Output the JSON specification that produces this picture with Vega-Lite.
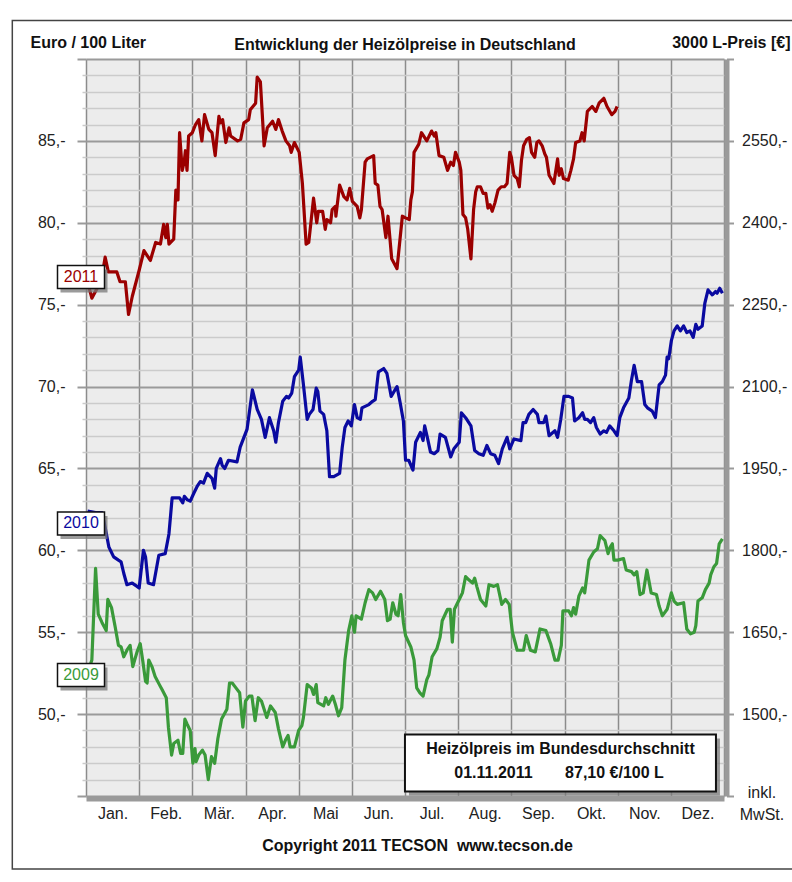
{
"$schema": "https://vega.github.io/schema/vega-lite/v6.json",
"width": 638, "height": 737,
"autosize": "none",
"padding": {"left": 86, "top": 59, "right": 68, "bottom": 86},
"background": "white",
"config": {"font": "Liberation Sans", "view": {"fill": "#ececec", "stroke": null}},
"title": {"text": "Entwicklung der Heizölpreise in Deutschland", "anchor": "middle", "frame": "group", "fontSize": 16, "fontWeight": "bold", "color": "#111", "baseline": "alphabetic", "offset": -45.75},
"datasets": {
"prices": [
{"year":"2011","t":0.02,"v":76.5},{"year":"2011","t":0.11,"v":75.4},{"year":"2011","t":0.21,"v":76.0},{"year":"2011","t":0.30,"v":76.7},{"year":"2011","t":0.36,"v":77.9},{"year":"2011","t":0.42,"v":77.0},{"year":"2011","t":0.58,"v":77.0},{"year":"2011","t":0.64,"v":76.4},{"year":"2011","t":0.74,"v":76.4},{"year":"2011","t":0.80,"v":74.4},{"year":"2011","t":0.87,"v":75.5},{"year":"2011","t":1.0,"v":77.1},{"year":"2011","t":1.09,"v":78.3},{"year":"2011","t":1.21,"v":77.7},{"year":"2011","t":1.31,"v":78.8},{"year":"2011","t":1.40,"v":78.7},{"year":"2011","t":1.46,"v":79.9},{"year":"2011","t":1.50,"v":79.1},{"year":"2011","t":1.53,"v":79.9},{"year":"2011","t":1.56,"v":78.7},{"year":"2011","t":1.65,"v":79.0},{"year":"2011","t":1.69,"v":82.0},{"year":"2011","t":1.73,"v":81.4},{"year":"2011","t":1.76,"v":85.5},{"year":"2011","t":1.81,"v":83.2},{"year":"2011","t":1.85,"v":83.8},{"year":"2011","t":1.87,"v":84.4},{"year":"2011","t":1.90,"v":83.2},{"year":"2011","t":1.93,"v":85.3},{"year":"2011","t":2.0,"v":85.5},{"year":"2011","t":2.06,"v":86.0},{"year":"2011","t":2.12,"v":86.3},{"year":"2011","t":2.18,"v":85.0},{"year":"2011","t":2.23,"v":86.6},{"year":"2011","t":2.31,"v":85.7},{"year":"2011","t":2.37,"v":85.5},{"year":"2011","t":2.43,"v":84.1},{"year":"2011","t":2.50,"v":86.5},{"year":"2011","t":2.53,"v":86.1},{"year":"2011","t":2.57,"v":86.3},{"year":"2011","t":2.63,"v":84.9},{"year":"2011","t":2.69,"v":85.8},{"year":"2011","t":2.72,"v":85.3},{"year":"2011","t":2.85,"v":85.0},{"year":"2011","t":2.91,"v":85.1},{"year":"2011","t":2.97,"v":86.1},{"year":"2011","t":3.06,"v":86.3},{"year":"2011","t":3.09,"v":86.9},{"year":"2011","t":3.19,"v":87.3},{"year":"2011","t":3.22,"v":88.9},{"year":"2011","t":3.28,"v":88.6},{"year":"2011","t":3.35,"v":84.7},{"year":"2011","t":3.41,"v":85.8},{"year":"2011","t":3.51,"v":86.2},{"year":"2011","t":3.57,"v":85.7},{"year":"2011","t":3.62,"v":86.3},{"year":"2011","t":3.69,"v":85.6},{"year":"2011","t":3.76,"v":85.0},{"year":"2011","t":3.83,"v":84.7},{"year":"2011","t":3.86,"v":84.3},{"year":"2011","t":3.92,"v":84.9},{"year":"2011","t":4.01,"v":84.3},{"year":"2011","t":4.07,"v":82.4},{"year":"2011","t":4.14,"v":78.7},{"year":"2011","t":4.19,"v":78.8},{"year":"2011","t":4.28,"v":81.5},{"year":"2011","t":4.34,"v":80.0},{"year":"2011","t":4.37,"v":80.7},{"year":"2011","t":4.45,"v":80.7},{"year":"2011","t":4.50,"v":79.6},{"year":"2011","t":4.53,"v":80.2},{"year":"2011","t":4.60,"v":80.0},{"year":"2011","t":4.63,"v":80.8},{"year":"2011","t":4.69,"v":81.0},{"year":"2011","t":4.70,"v":80.4},{"year":"2011","t":4.77,"v":82.3},{"year":"2011","t":4.85,"v":81.6},{"year":"2011","t":4.91,"v":81.4},{"year":"2011","t":4.96,"v":82.1},{"year":"2011","t":5.01,"v":81.3},{"year":"2011","t":5.10,"v":81.0},{"year":"2011","t":5.15,"v":80.3},{"year":"2011","t":5.18,"v":80.8},{"year":"2011","t":5.25,"v":83.7},{"year":"2011","t":5.29,"v":83.9},{"year":"2011","t":5.41,"v":84.1},{"year":"2011","t":5.44,"v":82.4},{"year":"2011","t":5.49,"v":82.3},{"year":"2011","t":5.53,"v":81.0},{"year":"2011","t":5.57,"v":80.8},{"year":"2011","t":5.64,"v":79.1},{"year":"2011","t":5.68,"v":80.4},{"year":"2011","t":5.75,"v":77.8},{"year":"2011","t":5.85,"v":77.2},{"year":"2011","t":5.95,"v":80.4},{"year":"2011","t":6.01,"v":80.3},{"year":"2011","t":6.08,"v":80.2},{"year":"2011","t":6.11,"v":81.4},{"year":"2011","t":6.14,"v":81.9},{"year":"2011","t":6.17,"v":84.3},{"year":"2011","t":6.26,"v":84.8},{"year":"2011","t":6.31,"v":85.5},{"year":"2011","t":6.41,"v":85.0},{"year":"2011","t":6.50,"v":85.6},{"year":"2011","t":6.55,"v":85.3},{"year":"2011","t":6.58,"v":85.5},{"year":"2011","t":6.64,"v":84.1},{"year":"2011","t":6.73,"v":84.0},{"year":"2011","t":6.80,"v":83.2},{"year":"2011","t":6.86,"v":83.7},{"year":"2011","t":6.91,"v":83.5},{"year":"2011","t":6.95,"v":84.3},{"year":"2011","t":7.02,"v":83.7},{"year":"2011","t":7.05,"v":83.2},{"year":"2011","t":7.09,"v":80.5},{"year":"2011","t":7.14,"v":80.3},{"year":"2011","t":7.18,"v":79.6},{"year":"2011","t":7.24,"v":77.8},{"year":"2011","t":7.29,"v":80.8},{"year":"2011","t":7.33,"v":81.9},{"year":"2011","t":7.36,"v":82.2},{"year":"2011","t":7.42,"v":82.2},{"year":"2011","t":7.47,"v":81.8},{"year":"2011","t":7.52,"v":81.8},{"year":"2011","t":7.56,"v":80.9},{"year":"2011","t":7.60,"v":81.1},{"year":"2011","t":7.64,"v":80.7},{"year":"2011","t":7.69,"v":81.2},{"year":"2011","t":7.75,"v":82.0},{"year":"2011","t":7.81,"v":82.2},{"year":"2011","t":7.87,"v":82.2},{"year":"2011","t":7.92,"v":82.4},{"year":"2011","t":7.97,"v":84.3},{"year":"2011","t":8.00,"v":84.0},{"year":"2011","t":8.05,"v":82.9},{"year":"2011","t":8.11,"v":82.7},{"year":"2011","t":8.15,"v":82.2},{"year":"2011","t":8.19,"v":83.8},{"year":"2011","t":8.23,"v":84.7},{"year":"2011","t":8.29,"v":85.1},{"year":"2011","t":8.34,"v":85.2},{"year":"2011","t":8.38,"v":84.3},{"year":"2011","t":8.44,"v":84.0},{"year":"2011","t":8.48,"v":84.9},{"year":"2011","t":8.52,"v":85.0},{"year":"2011","t":8.58,"v":84.7},{"year":"2011","t":8.63,"v":84.2},{"year":"2011","t":8.66,"v":84.0},{"year":"2011","t":8.71,"v":82.9},{"year":"2011","t":8.80,"v":82.4},{"year":"2011","t":8.87,"v":83.9},{"year":"2011","t":8.90,"v":82.9},{"year":"2011","t":8.94,"v":83.3},{"year":"2011","t":8.98,"v":82.7},{"year":"2011","t":9.07,"v":82.6},{"year":"2011","t":9.12,"v":83.2},{"year":"2011","t":9.17,"v":83.9},{"year":"2011","t":9.21,"v":84.9},{"year":"2011","t":9.29,"v":85.0},{"year":"2011","t":9.33,"v":85.5},{"year":"2011","t":9.37,"v":85.0},{"year":"2011","t":9.43,"v":86.8},{"year":"2011","t":9.52,"v":87.1},{"year":"2011","t":9.59,"v":86.8},{"year":"2011","t":9.65,"v":87.3},{"year":"2011","t":9.74,"v":87.6},{"year":"2011","t":9.80,"v":87.1},{"year":"2011","t":9.89,"v":86.6},{"year":"2011","t":9.95,"v":86.8},{"year":"2011","t":9.99,"v":87.1},
{"year":"2010","t":0.03,"v":62.4},{"year":"2010","t":0.18,"v":62.3},{"year":"2010","t":0.30,"v":62.3},{"year":"2010","t":0.36,"v":61.4},{"year":"2010","t":0.43,"v":60.2},{"year":"2010","t":0.52,"v":59.6},{"year":"2010","t":0.61,"v":59.4},{"year":"2010","t":0.66,"v":59.3},{"year":"2010","t":0.71,"v":58.6},{"year":"2010","t":0.77,"v":57.9},{"year":"2010","t":0.87,"v":58.0},{"year":"2010","t":0.96,"v":57.8},{"year":"2010","t":1.0,"v":57.7},{"year":"2010","t":1.08,"v":60.0},{"year":"2010","t":1.12,"v":59.6},{"year":"2010","t":1.17,"v":58.0},{"year":"2010","t":1.27,"v":57.9},{"year":"2010","t":1.37,"v":59.7},{"year":"2010","t":1.49,"v":59.8},{"year":"2010","t":1.56,"v":61.0},{"year":"2010","t":1.62,"v":63.2},{"year":"2010","t":1.76,"v":63.2},{"year":"2010","t":1.82,"v":62.9},{"year":"2010","t":1.85,"v":63.3},{"year":"2010","t":1.90,"v":63.1},{"year":"2010","t":1.96,"v":63.0},{"year":"2010","t":2.03,"v":63.5},{"year":"2010","t":2.09,"v":63.9},{"year":"2010","t":2.15,"v":64.2},{"year":"2010","t":2.21,"v":64.1},{"year":"2010","t":2.28,"v":64.7},{"year":"2010","t":2.37,"v":64.4},{"year":"2010","t":2.42,"v":63.8},{"year":"2010","t":2.45,"v":65.0},{"year":"2010","t":2.53,"v":65.6},{"year":"2010","t":2.56,"v":65.2},{"year":"2010","t":2.61,"v":65.0},{"year":"2010","t":2.68,"v":65.5},{"year":"2010","t":2.84,"v":65.4},{"year":"2010","t":2.90,"v":66.3},{"year":"2010","t":3.03,"v":67.4},{"year":"2010","t":3.13,"v":69.8},{"year":"2010","t":3.22,"v":68.6},{"year":"2010","t":3.30,"v":68.0},{"year":"2010","t":3.37,"v":66.9},{"year":"2010","t":3.45,"v":68.1},{"year":"2010","t":3.53,"v":67.3},{"year":"2010","t":3.57,"v":66.6},{"year":"2010","t":3.62,"v":67.8},{"year":"2010","t":3.70,"v":69.1},{"year":"2010","t":3.77,"v":69.4},{"year":"2010","t":3.81,"v":69.3},{"year":"2010","t":3.87,"v":69.6},{"year":"2010","t":3.92,"v":70.6},{"year":"2010","t":4.0,"v":71.0},{"year":"2010","t":4.03,"v":71.8},{"year":"2010","t":4.09,"v":70.1},{"year":"2010","t":4.16,"v":68.0},{"year":"2010","t":4.20,"v":68.3},{"year":"2010","t":4.27,"v":68.6},{"year":"2010","t":4.33,"v":69.9},{"year":"2010","t":4.36,"v":69.7},{"year":"2010","t":4.40,"v":68.5},{"year":"2010","t":4.47,"v":68.3},{"year":"2010","t":4.53,"v":67.3},{"year":"2010","t":4.58,"v":64.5},{"year":"2010","t":4.66,"v":64.5},{"year":"2010","t":4.77,"v":64.7},{"year":"2010","t":4.82,"v":66.3},{"year":"2010","t":4.87,"v":67.5},{"year":"2010","t":4.93,"v":67.9},{"year":"2010","t":4.99,"v":67.6},{"year":"2010","t":5.05,"v":68.9},{"year":"2010","t":5.10,"v":68.1},{"year":"2010","t":5.16,"v":68.0},{"year":"2010","t":5.19,"v":68.7},{"year":"2010","t":5.32,"v":68.9},{"year":"2010","t":5.39,"v":69.1},{"year":"2010","t":5.44,"v":69.2},{"year":"2010","t":5.50,"v":70.9},{"year":"2010","t":5.60,"v":71.1},{"year":"2010","t":5.66,"v":70.8},{"year":"2010","t":5.74,"v":69.4},{"year":"2010","t":5.85,"v":70.0},{"year":"2010","t":5.91,"v":69.0},{"year":"2010","t":5.97,"v":67.9},{"year":"2010","t":6.01,"v":65.5},{"year":"2010","t":6.07,"v":65.5},{"year":"2010","t":6.15,"v":64.9},{"year":"2010","t":6.20,"v":66.6},{"year":"2010","t":6.29,"v":67.2},{"year":"2010","t":6.34,"v":66.7},{"year":"2010","t":6.37,"v":67.6},{"year":"2010","t":6.42,"v":66.9},{"year":"2010","t":6.48,"v":66.0},{"year":"2010","t":6.55,"v":65.9},{"year":"2010","t":6.62,"v":66.1},{"year":"2010","t":6.66,"v":67.1},{"year":"2010","t":6.76,"v":66.9},{"year":"2010","t":6.86,"v":65.7},{"year":"2010","t":6.92,"v":66.2},{"year":"2010","t":7.02,"v":66.6},{"year":"2010","t":7.06,"v":68.4},{"year":"2010","t":7.14,"v":68.1},{"year":"2010","t":7.24,"v":67.6},{"year":"2010","t":7.31,"v":66.1},{"year":"2010","t":7.39,"v":65.9},{"year":"2010","t":7.47,"v":65.8},{"year":"2010","t":7.54,"v":66.4},{"year":"2010","t":7.61,"v":65.9},{"year":"2010","t":7.69,"v":65.8},{"year":"2010","t":7.76,"v":65.3},{"year":"2010","t":7.83,"v":66.2},{"year":"2010","t":7.92,"v":66.9},{"year":"2010","t":7.97,"v":66.2},{"year":"2010","t":8.05,"v":66.8},{"year":"2010","t":8.18,"v":66.7},{"year":"2010","t":8.22,"v":67.8},{"year":"2010","t":8.27,"v":67.8},{"year":"2010","t":8.33,"v":68.3},{"year":"2010","t":8.41,"v":68.6},{"year":"2010","t":8.49,"v":68.3},{"year":"2010","t":8.52,"v":67.8},{"year":"2010","t":8.61,"v":67.8},{"year":"2010","t":8.65,"v":68.2},{"year":"2010","t":8.71,"v":67.0},{"year":"2010","t":8.82,"v":67.3},{"year":"2010","t":8.87,"v":66.9},{"year":"2010","t":8.93,"v":68.0},{"year":"2010","t":8.99,"v":69.4},{"year":"2010","t":9.08,"v":69.4},{"year":"2010","t":9.15,"v":69.3},{"year":"2010","t":9.19,"v":67.9},{"year":"2010","t":9.27,"v":68.1},{"year":"2010","t":9.34,"v":68.4},{"year":"2010","t":9.38,"v":68.0},{"year":"2010","t":9.43,"v":68.0},{"year":"2010","t":9.49,"v":67.8},{"year":"2010","t":9.55,"v":68.1},{"year":"2010","t":9.60,"v":67.5},{"year":"2010","t":9.67,"v":67.1},{"year":"2010","t":9.74,"v":67.3},{"year":"2010","t":9.79,"v":67.2},{"year":"2010","t":9.85,"v":67.6},{"year":"2010","t":9.93,"v":67.3},{"year":"2010","t":9.99,"v":67.0},{"year":"2010","t":10.04,"v":68.1},{"year":"2010","t":10.11,"v":68.7},{"year":"2010","t":10.21,"v":69.3},{"year":"2010","t":10.26,"v":70.4},{"year":"2010","t":10.31,"v":71.3},{"year":"2010","t":10.37,"v":70.3},{"year":"2010","t":10.45,"v":70.3},{"year":"2010","t":10.51,"v":68.9},{"year":"2010","t":10.56,"v":68.7},{"year":"2010","t":10.65,"v":68.5},{"year":"2010","t":10.71,"v":68.1},{"year":"2010","t":10.78,"v":70.1},{"year":"2010","t":10.84,"v":70.3},{"year":"2010","t":10.90,"v":70.7},{"year":"2010","t":10.93,"v":71.8},{"year":"2010","t":10.96,"v":71.7},{"year":"2010","t":11.01,"v":72.8},{"year":"2010","t":11.06,"v":73.4},{"year":"2010","t":11.12,"v":73.7},{"year":"2010","t":11.18,"v":73.4},{"year":"2010","t":11.24,"v":73.7},{"year":"2010","t":11.30,"v":73.3},{"year":"2010","t":11.36,"v":73.4},{"year":"2010","t":11.42,"v":73.0},{"year":"2010","t":11.47,"v":73.8},{"year":"2010","t":11.51,"v":73.5},{"year":"2010","t":11.59,"v":73.7},{"year":"2010","t":11.64,"v":75.1},{"year":"2010","t":11.70,"v":75.9},{"year":"2010","t":11.78,"v":75.6},{"year":"2010","t":11.84,"v":75.8},{"year":"2010","t":11.87,"v":75.7},{"year":"2010","t":11.92,"v":76.0},{"year":"2010","t":11.97,"v":75.7},
{"year":"2009","t":0.04,"v":52.6},{"year":"2009","t":0.11,"v":53.3},{"year":"2009","t":0.18,"v":58.9},{"year":"2009","t":0.23,"v":56.1},{"year":"2009","t":0.30,"v":55.6},{"year":"2009","t":0.38,"v":55.1},{"year":"2009","t":0.41,"v":57.0},{"year":"2009","t":0.48,"v":56.5},{"year":"2009","t":0.55,"v":55.3},{"year":"2009","t":0.61,"v":54.2},{"year":"2009","t":0.66,"v":54.1},{"year":"2009","t":0.71,"v":53.5},{"year":"2009","t":0.77,"v":53.9},{"year":"2009","t":0.83,"v":54.2},{"year":"2009","t":0.88,"v":52.9},{"year":"2009","t":0.96,"v":53.8},{"year":"2009","t":1.02,"v":54.3},{"year":"2009","t":1.07,"v":53.2},{"year":"2009","t":1.12,"v":52.0},{"year":"2009","t":1.15,"v":51.9},{"year":"2009","t":1.18,"v":53.3},{"year":"2009","t":1.24,"v":52.9},{"year":"2009","t":1.30,"v":52.3},{"year":"2009","t":1.38,"v":51.8},{"year":"2009","t":1.43,"v":51.5},{"year":"2009","t":1.51,"v":51.0},{"year":"2009","t":1.55,"v":49.2},{"year":"2009","t":1.61,"v":47.5},{"year":"2009","t":1.65,"v":48.2},{"year":"2009","t":1.73,"v":48.4},{"year":"2009","t":1.78,"v":47.6},{"year":"2009","t":1.82,"v":47.6},{"year":"2009","t":1.86,"v":49.7},{"year":"2009","t":1.90,"v":49.4},{"year":"2009","t":1.96,"v":49.0},{"year":"2009","t":2.01,"v":47.0},{"year":"2009","t":2.05,"v":47.9},{"year":"2009","t":2.07,"v":47.1},{"year":"2009","t":2.12,"v":47.5},{"year":"2009","t":2.19,"v":47.8},{"year":"2009","t":2.24,"v":47.5},{"year":"2009","t":2.30,"v":46.0},{"year":"2009","t":2.36,"v":47.4},{"year":"2009","t":2.42,"v":47.0},{"year":"2009","t":2.48,"v":48.5},{"year":"2009","t":2.55,"v":49.7},{"year":"2009","t":2.65,"v":50.3},{"year":"2009","t":2.70,"v":51.9},{"year":"2009","t":2.75,"v":51.9},{"year":"2009","t":2.82,"v":51.6},{"year":"2009","t":2.89,"v":51.3},{"year":"2009","t":2.95,"v":49.2},{"year":"2009","t":3.0,"v":50.8},{"year":"2009","t":3.07,"v":51.1},{"year":"2009","t":3.12,"v":51.1},{"year":"2009","t":3.18,"v":49.6},{"year":"2009","t":3.24,"v":51.0},{"year":"2009","t":3.30,"v":50.8},{"year":"2009","t":3.40,"v":49.8},{"year":"2009","t":3.47,"v":50.5},{"year":"2009","t":3.56,"v":50.1},{"year":"2009","t":3.62,"v":49.1},{"year":"2009","t":3.70,"v":48.0},{"year":"2009","t":3.75,"v":48.4},{"year":"2009","t":3.80,"v":48.7},{"year":"2009","t":3.84,"v":48.0},{"year":"2009","t":3.92,"v":48.0},{"year":"2009","t":4.0,"v":49.0},{"year":"2009","t":4.06,"v":49.3},{"year":"2009","t":4.09,"v":49.8},{"year":"2009","t":4.16,"v":51.8},{"year":"2009","t":4.24,"v":51.6},{"year":"2009","t":4.28,"v":51.2},{"year":"2009","t":4.33,"v":51.8},{"year":"2009","t":4.36,"v":50.7},{"year":"2009","t":4.47,"v":50.5},{"year":"2009","t":4.51,"v":51.0},{"year":"2009","t":4.56,"v":50.6},{"year":"2009","t":4.64,"v":51.1},{"year":"2009","t":4.69,"v":50.6},{"year":"2009","t":4.75,"v":49.9},{"year":"2009","t":4.81,"v":50.4},{"year":"2009","t":4.87,"v":53.3},{"year":"2009","t":4.94,"v":55.1},{"year":"2009","t":5.0,"v":56.0},{"year":"2009","t":5.05,"v":55.0},{"year":"2009","t":5.08,"v":56.0},{"year":"2009","t":5.18,"v":55.8},{"year":"2009","t":5.25,"v":56.8},{"year":"2009","t":5.32,"v":57.6},{"year":"2009","t":5.39,"v":57.4},{"year":"2009","t":5.45,"v":57.0},{"year":"2009","t":5.54,"v":57.5},{"year":"2009","t":5.62,"v":57.0},{"year":"2009","t":5.67,"v":55.7},{"year":"2009","t":5.72,"v":55.8},{"year":"2009","t":5.77,"v":56.8},{"year":"2009","t":5.83,"v":56.1},{"year":"2009","t":5.87,"v":56.0},{"year":"2009","t":5.92,"v":57.3},{"year":"2009","t":5.97,"v":55.6},{"year":"2009","t":6.01,"v":54.8},{"year":"2009","t":6.11,"v":54.1},{"year":"2009","t":6.17,"v":53.3},{"year":"2009","t":6.22,"v":51.6},{"year":"2009","t":6.28,"v":51.3},{"year":"2009","t":6.34,"v":51.1},{"year":"2009","t":6.41,"v":52.1},{"year":"2009","t":6.45,"v":52.4},{"year":"2009","t":6.51,"v":53.5},{"year":"2009","t":6.60,"v":54.0},{"year":"2009","t":6.66,"v":54.7},{"year":"2009","t":6.70,"v":55.7},{"year":"2009","t":6.80,"v":56.4},{"year":"2009","t":6.85,"v":56.4},{"year":"2009","t":6.89,"v":54.4},{"year":"2009","t":6.93,"v":56.4},{"year":"2009","t":7.02,"v":57.0},{"year":"2009","t":7.08,"v":57.4},{"year":"2009","t":7.14,"v":58.4},{"year":"2009","t":7.20,"v":58.2},{"year":"2009","t":7.27,"v":58.0},{"year":"2009","t":7.31,"v":58.3},{"year":"2009","t":7.35,"v":57.8},{"year":"2009","t":7.42,"v":57.0},{"year":"2009","t":7.52,"v":56.6},{"year":"2009","t":7.58,"v":57.9},{"year":"2009","t":7.67,"v":57.8},{"year":"2009","t":7.74,"v":57.9},{"year":"2009","t":7.82,"v":56.7},{"year":"2009","t":7.89,"v":57.0},{"year":"2009","t":7.96,"v":56.7},{"year":"2009","t":8.02,"v":55.0},{"year":"2009","t":8.11,"v":53.9},{"year":"2009","t":8.23,"v":53.9},{"year":"2009","t":8.28,"v":54.8},{"year":"2009","t":8.36,"v":53.9},{"year":"2009","t":8.45,"v":53.8},{"year":"2009","t":8.54,"v":55.2},{"year":"2009","t":8.65,"v":55.1},{"year":"2009","t":8.74,"v":54.3},{"year":"2009","t":8.82,"v":53.3},{"year":"2009","t":8.88,"v":53.3},{"year":"2009","t":8.94,"v":54.2},{"year":"2009","t":8.97,"v":56.3},{"year":"2009","t":9.08,"v":56.3},{"year":"2009","t":9.13,"v":56.0},{"year":"2009","t":9.17,"v":56.5},{"year":"2009","t":9.21,"v":56.1},{"year":"2009","t":9.27,"v":57.2},{"year":"2009","t":9.34,"v":57.7},{"year":"2009","t":9.38,"v":57.4},{"year":"2009","t":9.46,"v":59.4},{"year":"2009","t":9.55,"v":59.9},{"year":"2009","t":9.62,"v":60.1},{"year":"2009","t":9.67,"v":60.9},{"year":"2009","t":9.76,"v":60.6},{"year":"2009","t":9.82,"v":59.8},{"year":"2009","t":9.86,"v":60.2},{"year":"2009","t":9.90,"v":60.4},{"year":"2009","t":9.93,"v":59.4},{"year":"2009","t":10.0,"v":59.4},{"year":"2009","t":10.11,"v":59.5},{"year":"2009","t":10.16,"v":58.8},{"year":"2009","t":10.26,"v":58.7},{"year":"2009","t":10.31,"v":58.5},{"year":"2009","t":10.36,"v":58.7},{"year":"2009","t":10.42,"v":57.3},{"year":"2009","t":10.48,"v":57.4},{"year":"2009","t":10.55,"v":58.8},{"year":"2009","t":10.63,"v":57.4},{"year":"2009","t":10.73,"v":57.3},{"year":"2009","t":10.78,"v":56.6},{"year":"2009","t":10.84,"v":56.0},{"year":"2009","t":10.93,"v":56.4},{"year":"2009","t":11.01,"v":57.4},{"year":"2009","t":11.06,"v":56.9},{"year":"2009","t":11.12,"v":56.7},{"year":"2009","t":11.24,"v":56.8},{"year":"2009","t":11.30,"v":55.2},{"year":"2009","t":11.37,"v":54.9},{"year":"2009","t":11.44,"v":55.0},{"year":"2009","t":11.47,"v":55.4},{"year":"2009","t":11.51,"v":56.9},{"year":"2009","t":11.59,"v":57.1},{"year":"2009","t":11.65,"v":57.6},{"year":"2009","t":11.72,"v":58.0},{"year":"2009","t":11.75,"v":58.5},{"year":"2009","t":11.81,"v":59.0},{"year":"2009","t":11.86,"v":59.2},{"year":"2009","t":11.91,"v":60.4},{"year":"2009","t":11.97,"v":60.7}
],
"labels": [{"year":"2011","v":76.69},{"year":"2010","v":61.64},{"year":"2009","v":52.39}],
"info": [{"head":"Heizölpreis im Bundesdurchschnitt","date":"01.11.2011","price":"87,10 €/100 L"}]
},
"layer": [
{"data": {"values": [{}]},
 "mark": {"type": "rect", "fillOpacity": 0, "stroke": "#444", "strokeWidth": 1.5, "clip": false},
 "encoding": {
  "x": {"datum": -1.386, "type": "quantitative", "scale": {"domain": [0, 12], "nice": false, "zero": false}, "axis": null},
  "x2": {"datum": 13.6},
  "y": {"datum": 92.35, "type": "quantitative", "scale": {"domain": [45, 90], "nice": false, "zero": false}, "axis": null},
  "y2": {"datum": 40.54}}},
{"data": {"name": "prices"},
 "mark": {"type": "line", "strokeWidth": 3.2, "strokeJoin": "round"},
 "encoding": {
  "x": {"field": "t", "type": "quantitative", "scale": {"domain": [0, 12], "nice": false, "zero": false},
   "axis": {"orient": "bottom", "values": [0,1,2,3,4,5,6,7,8,9,10,11,12], "grid": true, "gridColor": "#8c8c8c", "gridWidth": 1.5, "ticks": false,
    "domain": true, "domainColor": "#9a9a9a", "domainWidth": 5, "offset": 2.5,
    "labelExpr": "['Jan.','Feb.','Mär.','Apr.','Mai','Jun.','Jul.','Aug.','Sep.','Okt.','Nov.','Dez.',''][datum.value]",
    "labelOffset": 26.6, "labelFontSize": 16, "labelColor": "#222", "labelPadding": 7, "labelFlush": false, "labelOverlap": false, "labelBound": false,
    "title": "Copyright 2011 TECSON\u00a0\u00a0www.tecson.de", "titleFontSize": 16, "titleFontWeight": "bold", "titleColor": "#111",
    "titleAlign": "center", "titleBaseline": "alphabetic", "titleX": 331, "titleY": 52}},
  "y": {"field": "v", "type": "quantitative", "scale": {"domain": [45, 90], "nice": false, "zero": false},
   "axis": {"orient": "left", "values": [45,46,47,48,49,50,51,52,53,54,55,56,57,58,59,60,61,62,63,64,65,66,67,68,69,70,71,72,73,74,75,76,77,78,79,80,81,82,83,84,85,86,87,88,89,90],
    "grid": true, "domain": false,
    "gridColor": {"condition": {"test": "datum.value % 5 === 0", "value": "#9a9a9a"}, "value": "#cbcbcb"},
    "gridWidth": {"condition": {"test": "datum.value % 5 === 0", "value": 2}, "value": 1.5},
    "tickColor": {"condition": {"test": "datum.value % 5 === 0", "value": "#9a9a9a"}, "value": "#cbcbcb"},
    "tickWidth": {"condition": {"test": "datum.value % 5 === 0", "value": 2}, "value": 1.5},
    "tickSize": {"condition": {"test": "datum.value % 5 === 0", "value": 9}, "value": 4},
    "labelExpr": "datum.value % 5 === 0 && datum.value >= 50 && datum.value <= 85 ? datum.value + ',-' : ''",
    "labelFontSize": 16, "labelColor": "#222", "labelPadding": 12, "labelOverlap": false, "labelBound": false, "labelFlush": false,
    "title": "Euro / 100 Liter", "titleAngle": 0, "titleAlign": "left", "titleBaseline": "alphabetic", "titleX": -56, "titleY": -11.5,
    "titleFontSize": 16, "titleFontWeight": "bold", "titleColor": "#111"}},
  "color": {"field": "year", "type": "nominal", "scale": {"domain": ["2009","2010","2011"], "range": ["#3a9a3a","#0a0aa0","#9b0000"]}, "legend": null}}},
{"data": {"name": "labels"},
 "mark": {"type": "rect", "width": 47, "height": 23, "fill": "#7a7a7a", "opacity": 0.75, "xOffset": -2, "yOffset": 4},
 "encoding": {
  "x": {"datum": 0, "type": "quantitative", "scale": {"domain": [0, 12], "nice": false, "zero": false}, "axis": null},
  "y": {"field": "v", "type": "quantitative", "scale": {"domain": [45, 90], "nice": false, "zero": false}, "axis": null}}},
{"data": {"name": "labels"},
 "mark": {"type": "rect", "width": 47, "height": 23, "fill": "white", "stroke": "#111", "strokeWidth": 1.5, "xOffset": -5},
 "encoding": {
  "x": {"datum": 0, "type": "quantitative", "scale": {"domain": [0, 12], "nice": false, "zero": false}, "axis": null},
  "y": {"field": "v", "type": "quantitative", "scale": {"domain": [45, 90], "nice": false, "zero": false},
   "axis": {"orient": "right", "values": [45,50,55,60,65,70,75,80,85,90], "grid": false,
    "domain": true, "domainColor": "#9a9a9a", "domainWidth": 5, "offset": 2.5,
    "tickColor": "#9a9a9a", "tickWidth": 2, "tickSize": 7,
    "labelExpr": "datum.value === 45 ? ['inkl.', 'MwSt.'] : (datum.value >= 50 && datum.value <= 85 ? (datum.value * 30) + ',-' : '')",
    "labelAlign": {"condition": {"test": "datum.value === 45", "value": "center"}, "value": "left"},
    "labelPadding": {"condition": {"test": "datum.value === 45", "value": 28}, "value": 8},
    "labelOffset": {"condition": {"test": "datum.value === 45", "value": -4}, "value": 0},
    "labelLineHeight": 22, "labelFontSize": 16, "labelColor": "#222", "labelOverlap": false, "labelBound": false, "labelFlush": false,
    "title": "3000 L-Preis [€]", "titleAngle": 0, "titleAlign": "right", "titleBaseline": "alphabetic", "titleX": 63.5, "titleY": -11.5,
    "titleFontSize": 16, "titleFontWeight": "bold", "titleColor": "#111"}}}},
{"data": {"name": "labels"},
 "mark": {"type": "text", "fontSize": 16, "xOffset": -5, "baseline": "middle", "align": "center"},
 "encoding": {
  "x": {"datum": 0, "type": "quantitative", "scale": {"domain": [0, 12], "nice": false, "zero": false}, "axis": null},
  "y": {"field": "v", "type": "quantitative", "scale": {"domain": [45, 90], "nice": false, "zero": false}, "axis": null},
  "text": {"field": "year"},
  "color": {"field": "year", "type": "nominal", "scale": {"domain": ["2009","2010","2011"], "range": ["#3a9a3a","#0a0aa0","#9b0000"]}, "legend": null}}},
{"data": {"name": "info"},
 "mark": {"type": "rect", "width": 311, "height": 57, "fill": "#7a7a7a", "opacity": 0.75, "xOffset": 4, "yOffset": 4},
 "encoding": {
  "x": {"datum": 8.924, "type": "quantitative", "scale": {"domain": [0, 12], "nice": false, "zero": false}, "axis": null},
  "y": {"datum": 47.02, "type": "quantitative", "scale": {"domain": [45, 90], "nice": false, "zero": false}, "axis": null}}},
{"data": {"name": "info"},
 "mark": {"type": "rect", "width": 311, "height": 57, "fill": "white", "stroke": "#111", "strokeWidth": 2},
 "encoding": {
  "x": {"datum": 8.924, "type": "quantitative", "scale": {"domain": [0, 12], "nice": false, "zero": false}, "axis": null},
  "y": {"datum": 47.02, "type": "quantitative", "scale": {"domain": [45, 90], "nice": false, "zero": false}, "axis": null}}},
{"data": {"name": "info"},
 "mark": {"type": "text", "fontSize": 16, "fontWeight": "bold", "color": "#111", "align": "center", "baseline": "middle", "dy": -14},
 "encoding": {
  "x": {"datum": 8.924, "type": "quantitative", "scale": {"domain": [0, 12], "nice": false, "zero": false}, "axis": null},
  "y": {"datum": 47.02, "type": "quantitative", "scale": {"domain": [45, 90], "nice": false, "zero": false}, "axis": null},
  "text": {"field": "head"}}},
{"data": {"name": "info"},
 "mark": {"type": "text", "fontSize": 16, "fontWeight": "bold", "color": "#111", "align": "center", "baseline": "middle", "dy": 10, "dx": -67},
 "encoding": {
  "x": {"datum": 8.924, "type": "quantitative", "scale": {"domain": [0, 12], "nice": false, "zero": false}, "axis": null},
  "y": {"datum": 47.02, "type": "quantitative", "scale": {"domain": [45, 90], "nice": false, "zero": false}, "axis": null},
  "text": {"field": "date"}}},
{"data": {"name": "info"},
 "mark": {"type": "text", "fontSize": 16, "fontWeight": "bold", "color": "#111", "align": "center", "baseline": "middle", "dy": 10, "dx": 54},
 "encoding": {
  "x": {"datum": 8.924, "type": "quantitative", "scale": {"domain": [0, 12], "nice": false, "zero": false}, "axis": null},
  "y": {"datum": 47.02, "type": "quantitative", "scale": {"domain": [45, 90], "nice": false, "zero": false}, "axis": null},
  "text": {"field": "price"}}}
],
"resolve": {"axis": {"x": "independent", "y": "independent"}}
}
